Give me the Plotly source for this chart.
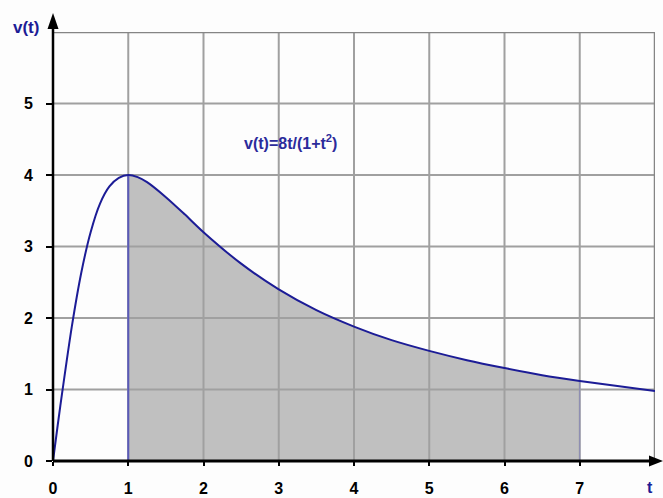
import plotly.graph_objects as go

# values: v(t) = 8t/(1+t^2)
t_vals = [0, 0.0625, 0.125, 0.25, 0.375, 0.5, 0.625, 0.75, 0.875, 1, 1.125, 1.25, 1.5, 1.75, 2, 2.5, 3, 3.5, 4, 4.5, 5, 5.5, 6, 6.5, 7, 7.5, 8]
v_vals = [0, 0.50, 0.98, 1.88, 2.63, 3.2, 3.60, 3.84, 3.96, 4.0, 3.97, 3.90, 3.69, 3.45, 3.2, 2.76, 2.4, 2.11, 1.88, 1.69, 1.54, 1.41, 1.30, 1.20, 1.12, 1.05, 0.98]
shade_from, shade_to = 1, 7
x_ticks = [0, 1, 2, 3, 4, 5, 6, 7]
x_tick_labels = ["0", "1", "2", "3", "4", "5", "6", "7"]
y_ticks = [0, 1, 2, 3, 4, 5]
y_tick_labels = ["0", "1", "2", "3", "4", "5"]
x_grid = [1, 2, 3, 4, 5, 6, 7, 8]
y_grid = [1, 2, 3, 4, 5, 6]
x_max, y_max = 8, 6
formula = "v(t)=8t/(1+t<sup>2</sup>)"

NAVY = "#1c1c96"
GRID = "#a0a0a0"

L, R, T, B = 53, 8, 32, 37
W, H = 663, 498
pw, ph = W - L - R, H - T - B


def px(dx):  # horizontal pixel offset from plot left -> paper
    return dx / pw


def py(dy):  # vertical pixel offset from plot bottom -> paper
    return dy / ph


fig = go.Figure()

# shaded area
sx = [t for t in t_vals if shade_from <= t <= shade_to]
sy = [v for t, v in zip(t_vals, v_vals) if shade_from <= t <= shade_to]
fig.add_trace(go.Scatter(x=sx, y=sy, mode="lines", line=dict(width=0, shape="spline", smoothing=0.8),
                         fill="tozeroy", fillcolor="#c0c0c0", hoverinfo="skip"))

# grid lines
gx, gy = [], []
for k in x_grid:
    gx += [k, k, None]
    gy += [0, y_max, None]
for k in y_grid:
    gx += [0, x_max, None]
    gy += [k, k, None]
fig.add_trace(go.Scatter(x=gx, y=gy, mode="lines", line=dict(color=GRID, width=2), hoverinfo="skip"))
fig.add_trace(go.Scatter(x=[0, x_max, x_max], y=[y_max, y_max, 0], mode="lines",
                         line=dict(color="#858585", width=2.5), hoverinfo="skip"))

# vertical bounds of shaded region
fig.add_trace(go.Scatter(x=[sx[0], sx[0]], y=[0, sy[0]], mode="lines",
                         line=dict(color="#5a5ab8", width=2), hoverinfo="skip"))
fig.add_trace(go.Scatter(x=[sx[-1], sx[-1]], y=[0, sy[-1]], mode="lines",
                         line=dict(color="#8888b8", width=1), hoverinfo="skip"))

# curve
fig.add_trace(go.Scatter(x=t_vals, y=v_vals, mode="lines",
                         line=dict(color=NAVY, width=2, shape="spline", smoothing=0.8), hoverinfo="skip"))

# axis lines with arrowheads (paper-referenced shapes, not clipped)
top = H - B - 13        # pixels above plot bottom for the y arrow tip
right = W - L           # pixels right of plot left for the x arrow tip
shapes = [
    dict(type="line", xref="paper", yref="paper", x0=0, y0=0, x1=0, y1=py(top - 10),
         line=dict(color="black", width=2.5), layer="above"),
    dict(type="line", xref="paper", yref="paper", x0=0, y0=0, x1=px(right - 8), y1=0,
         line=dict(color="black", width=3), layer="above"),
    dict(type="path", xref="paper", yref="paper", fillcolor="black", line=dict(width=0), layer="above",
         path=f"M {px(-5.5)} {py(top - 16)} L {px(5.5)} {py(top - 16)} L 0 {py(top)} Z"),
    dict(type="path", xref="paper", yref="paper", fillcolor="black", line=dict(width=0), layer="above",
         path=f"M {px(right - 14)} {py(5.5)} L {px(right - 14)} {py(-5.5)} L {px(right)} 0 Z"),
]

annotations = [
    dict(x=px(26 - L), y=py(H - B - 27), xref="paper", yref="paper", text="v(t)",
         xanchor="center", yanchor="middle",
         showarrow=False, font=dict(family="Arial", size=17, color=NAVY, weight="bold")),
    dict(x=px(650 - L), y=py(-26), xref="paper", yref="paper", text="t",
         xanchor="center", yanchor="middle",
         showarrow=False, font=dict(family="Arial", size=16, color=NAVY, weight="bold")),
    dict(x=3.15, y=4.46, xref="x", yref="y", text=formula, showarrow=False,
         xanchor="center", yanchor="middle",
         font=dict(family="Arial", size=16, color="#2b2b9b", weight="bold")),
]

fig.update_layout(
    width=W, height=H,
    margin=dict(l=L, r=R, t=T, b=B),
    paper_bgcolor="#fdfdfd", plot_bgcolor="#fdfdfd",
    showlegend=False,
    shapes=shapes,
    annotations=annotations,
    xaxis=dict(range=[0, x_max], showgrid=False, zeroline=False, showline=False, automargin=False,
               tickvals=x_ticks, ticktext=x_tick_labels, ticks="outside", ticklen=4,
               tickcolor="black", tickwidth=1.5, ticklabelstandoff=9,
               tickfont=dict(family="Arial", size=16, color="black", weight="bold"),
               fixedrange=True),
    yaxis=dict(range=[0, y_max], showgrid=False, zeroline=False, showline=False, automargin=False,
               tickvals=y_ticks, ticktext=y_tick_labels, ticks="outside", ticklen=6,
               tickcolor="black", tickwidth=1.5, ticklabelstandoff=10,
               tickfont=dict(family="Arial", size=16, color="black", weight="bold"),
               fixedrange=True),
)

fig.write_html("out.html")
